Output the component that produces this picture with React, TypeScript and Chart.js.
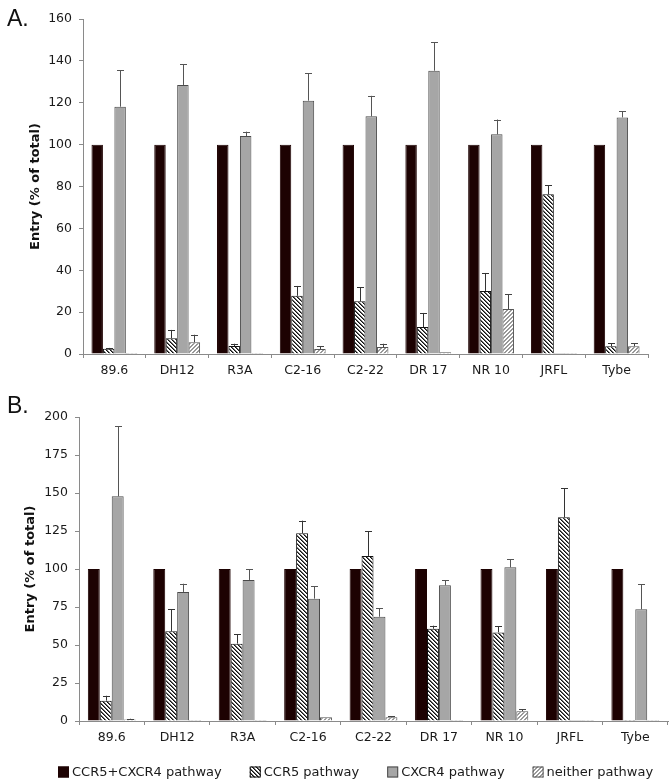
import React, { useEffect, useRef } from "react";
import { Chart, registerables } from "chart.js";
Chart.register(...registerables);

const categories = ["89.6", "DH12", "R3A", "C2-16", "C2-22", "DR 17", "NR 10", "JRFL", "Tybe"];
const seriesLabels = ["CCR5+CXCR4 pathway", "CCR5 pathway", "CXCR4 pathway", "neither pathway"];

// Panel A
const aBoth = [100, 100, 100, 100, 100, 100, 100, 100, 100];
const aCCR5 = [2.5, 7.5, 3.8, 27.8, 25.2, 12.9, 30.1, 76.3, 3.7];
const aCCR5Err = [0.4, 4, 1.1, 4.7, 6.6, 6.7, 8.6, 4.3, 1.4];
const aCXCR4 = [118.1, 128.5, 104.1, 121, 113.5, 135.3, 104.9, 0.5, 113];
const aCXCR4Err = [17.5, 9.9, 2.1, 13, 9.8, 13.5, 7.1, 0, 2.9];
const aNeither = [0.5, 5.6, 0.5, 2.4, 3.3, 0.8, 21.5, 0.5, 3.7];
const aNeitherErr = [0, 3.6, 0, 1.4, 1.6, 0, 7, 0, 1.4];
const aTicks = { max: 160, step: 20 };

// Panel B
const bBoth = [100, 100, 100, 100, 100, 100, 100, 100, 100];
const bCCR5 = [13.4, 59, 50.9, 123.5, 108.6, 60.7, 58.3, 134, 0.6];
const bCCR5Err = [3.2, 14.5, 6.1, 8.3, 16.2, 2, 4, 19.1, 0];
const bCXCR4 = [147.8, 84.9, 92.8, 80.5, 68.6, 89.3, 101.1, 0.6, 73.5];
const bCXCR4Err = [46.2, 5.4, 7.2, 8, 5.7, 3.2, 5.3, 0, 16.4];
const bNeither = [1, 0.6, 0.6, 2.4, 2.4, 0.6, 6.4, 0.6, 0.6];
const bNeitherErr = [0.5, 0, 0, 0, 0.6, 0, 1.3, 0, 0];
const bTicks = { max: 200, step: 25 };

const FONT = "'DejaVu Sans', Verdana, sans-serif";

function makeHatch(rgb: [number, number, number], forward: boolean) {
  const s = 4;
  const c = document.createElement("canvas");
  c.width = s;
  c.height = s;
  const ctx = c.getContext("2d")!;
  const img = ctx.createImageData(s, s);
  for (let y = 0; y < s; y++) {
    for (let x = 0; x < s; x++) {
      const d = forward ? (x + y) % s : (((x - y) % s) + s) % s;
      const i = (y * s + x) * 4;
      let col: [number, number, number] = [255, 255, 255];
      if (d === 0) col = rgb;
      else if (d === 1)
        col = [
          Math.round((rgb[0] + 255) / 2.6),
          Math.round((rgb[1] + 255) / 2.6),
          Math.round((rgb[2] + 255) / 2.6),
        ];
      img.data[i] = col[0];
      img.data[i + 1] = col[1];
      img.data[i + 2] = col[2];
      img.data[i + 3] = 255;
    }
  }
  ctx.putImageData(img, 0, 0);
  return ctx.createPattern(c, "repeat")!;
}

const errorBarPlugin = {
  id: "errorBars",
  afterDatasetsDraw(chart: any) {
    const ctx = chart.ctx;
    const yScale = chart.scales.y;
    ctx.save();
    chart.data.datasets.forEach((ds: any, i: number) => {
      const errs: number[] | undefined = ds.errors;
      if (!errs) return;
      const meta = chart.getDatasetMeta(i);
      meta.data.forEach((el: any, j: number) => {
        const e = errs[j];
        if (!e) return;
        const v = ds.data[j];
        const yTop = yScale.getPixelForValue(v);
        const yE = yScale.getPixelForValue(v + e);
        ctx.strokeStyle = ds.errColor || "#333";
        ctx.lineWidth = 1;
        ctx.beginPath();
        ctx.moveTo(Math.round(el.x) + 0.5, yTop);
        ctx.lineTo(Math.round(el.x) + 0.5, yE);
        ctx.moveTo(Math.round(el.x) - 3, Math.round(yE) + 0.5);
        ctx.lineTo(Math.round(el.x) + 4, Math.round(yE) + 0.5);
        ctx.stroke();
      });
    });
    ctx.restore();
  },
};

const customLegendPlugin = {
  id: "customLegend",
  afterDraw(chart: any) {
    const opts = chart.options.plugins.customLegend;
    if (!opts || !opts.show) return;
    const ctx = chart.ctx;
    ctx.save();
    ctx.font = `13px ${FONT}`;
    ctx.textBaseline = "middle";
    ctx.textAlign = "left";
    const box = 11;
    const gapText = 3;
    const gapItem = opts.gap;
    const items = chart.data.datasets.map((ds: any) => ({
      label: ds.label,
      bg: ds.backgroundColor,
      border: ds.legendBorder || ds.borderColor,
      w: box + gapText + ctx.measureText(ds.label).width,
    }));
    let x = opts.startX;
    const y = chart.height - opts.bottom;
    items.forEach((it: any) => {
      ctx.fillStyle = it.bg;
      ctx.fillRect(x, y - box / 2, box, box);
      ctx.strokeStyle = it.border;
      ctx.lineWidth = 1;
      ctx.strokeRect(x + 0.5, y - box / 2 + 0.5, box - 1, box - 1);
      ctx.fillStyle = "#1a1a1a";
      ctx.fillText(it.label, x + box + gapText, y + 0.5);
      x += it.w + gapItem;
    });
    ctx.restore();
  },
};

function buildDatasets(
  both: number[],
  ccr5: number[],
  ccr5Err: number[],
  cxcr4: number[],
  cxcr4Err: number[],
  neither: number[],
  neitherErr: number[]
) {
  const hatchDark = makeHatch([17, 17, 17], false);
  const hatchLight = makeHatch([150, 150, 150], true);
  const common = { categoryPercentage: 0.73, barPercentage: 1.0, borderWidth: 1, borderSkipped: "start" };
  return [
    { label: seriesLabels[0], data: both, backgroundColor: "#1d0202", borderColor: "#1d0202", ...common },
    { label: seriesLabels[1], data: ccr5, errors: ccr5Err, backgroundColor: hatchDark, borderColor: "#111111", errColor: "#333", ...common },
    { label: seriesLabels[2], data: cxcr4, errors: cxcr4Err, backgroundColor: "#a6a6a6", borderColor: "#4a4a4a", errColor: "#555", ...common },
    { label: seriesLabels[3], data: neither, errors: neitherErr, backgroundColor: hatchLight, borderColor: "#555555", errColor: "#444", ...common },
  ];
}

function makeOptions(max: number, step: number, padding: any, yWidth: number, legend: any) {
  return {
    responsive: false,
    animation: false,
    layout: { padding },
    plugins: {
      legend: { display: false },
      tooltip: { enabled: false },
      customLegend: legend,
    },
    scales: {
      x: {
        afterFit: (s: any) => {
          s.height = 30;
        },
        grid: { offset: true, drawOnChartArea: false, drawTicks: true, tickLength: 4, color: "#8a8a8a" },
        border: { display: true, color: "#8a8a8a" },
        ticks: { font: { family: FONT, size: 12.5 }, color: "#1a1a1a", padding: 5, maxRotation: 0, autoSkip: false },
      },
      y: {
        min: 0,
        max,
        afterFit: (s: any) => {
          s.width = yWidth;
        },
        grid: { drawOnChartArea: false, drawTicks: true, tickLength: 4, color: "#8a8a8a" },
        border: { display: true, color: "#8a8a8a" },
        ticks: { stepSize: step, font: { family: FONT, size: 12.5 }, color: "#1a1a1a", padding: 7 },
        title: {
          display: true,
          text: "Entry (% of total)",
          font: { family: FONT, size: 13, weight: "bold" },
          color: "#111",
          padding: { top: 0, bottom: 0 },
        },
      },
    },
  };
}

function PanelChart(props: { which: "A" | "B"; width: number; height: number }) {
  const ref = useRef<HTMLCanvasElement | null>(null);
  useEffect(() => {
    if (!ref.current) return;
    let datasets: any[];
    let options: any;
    if (props.which === "A") {
      datasets = buildDatasets(aBoth, aCCR5, aCCR5Err, aCXCR4, aCXCR4Err, aNeither, aNeitherErr);
      options = makeOptions(aTicks.max, aTicks.step, { left: 28, right: 22, top: 19, bottom: 8 }, 55, { show: false });
    } else {
      datasets = buildDatasets(bBoth, bCCR5, bCCR5Err, bCXCR4, bCXCR4Err, bNeither, bNeitherErr);
      options = makeOptions(bTicks.max, bTicks.step, { left: 23, right: 2, top: 22, bottom: 33 }, 56, {
        show: true,
        startX: 58,
        gap: 28,
        bottom: 12,
      });
    }
    const chart = new Chart(ref.current, {
      type: "bar",
      data: { labels: categories, datasets },
      options,
      plugins: [errorBarPlugin, customLegendPlugin],
    } as any);
    return () => chart.destroy();
  }, [props.which]);
  return <canvas ref={ref} width={props.width} height={props.height} style={{ display: "block" }} />;
}

export default function App() {
  const labelStyle: React.CSSProperties = {
    position: "absolute",
    left: 7,
    fontFamily: "'Liberation Sans', Arial, sans-serif",
    fontSize: 23,
    lineHeight: "23px",
    color: "#111",
  };
  return (
    <div style={{ position: "absolute", left: 0, top: 0, width: 670, height: 784, background: "#fff", overflow: "hidden" }}>
      <div style={{ position: "absolute", left: 0, top: 0 }}>
        <PanelChart which="A" width={670} height={392} />
      </div>
      <div style={{ position: "absolute", left: 0, top: 395 }}>
        <PanelChart which="B" width={670} height={389} />
      </div>
      <div style={{ ...labelStyle, top: 7 }}>A.</div>
      <div style={{ ...labelStyle, top: 394 }}>B.</div>
    </div>
  );
}
